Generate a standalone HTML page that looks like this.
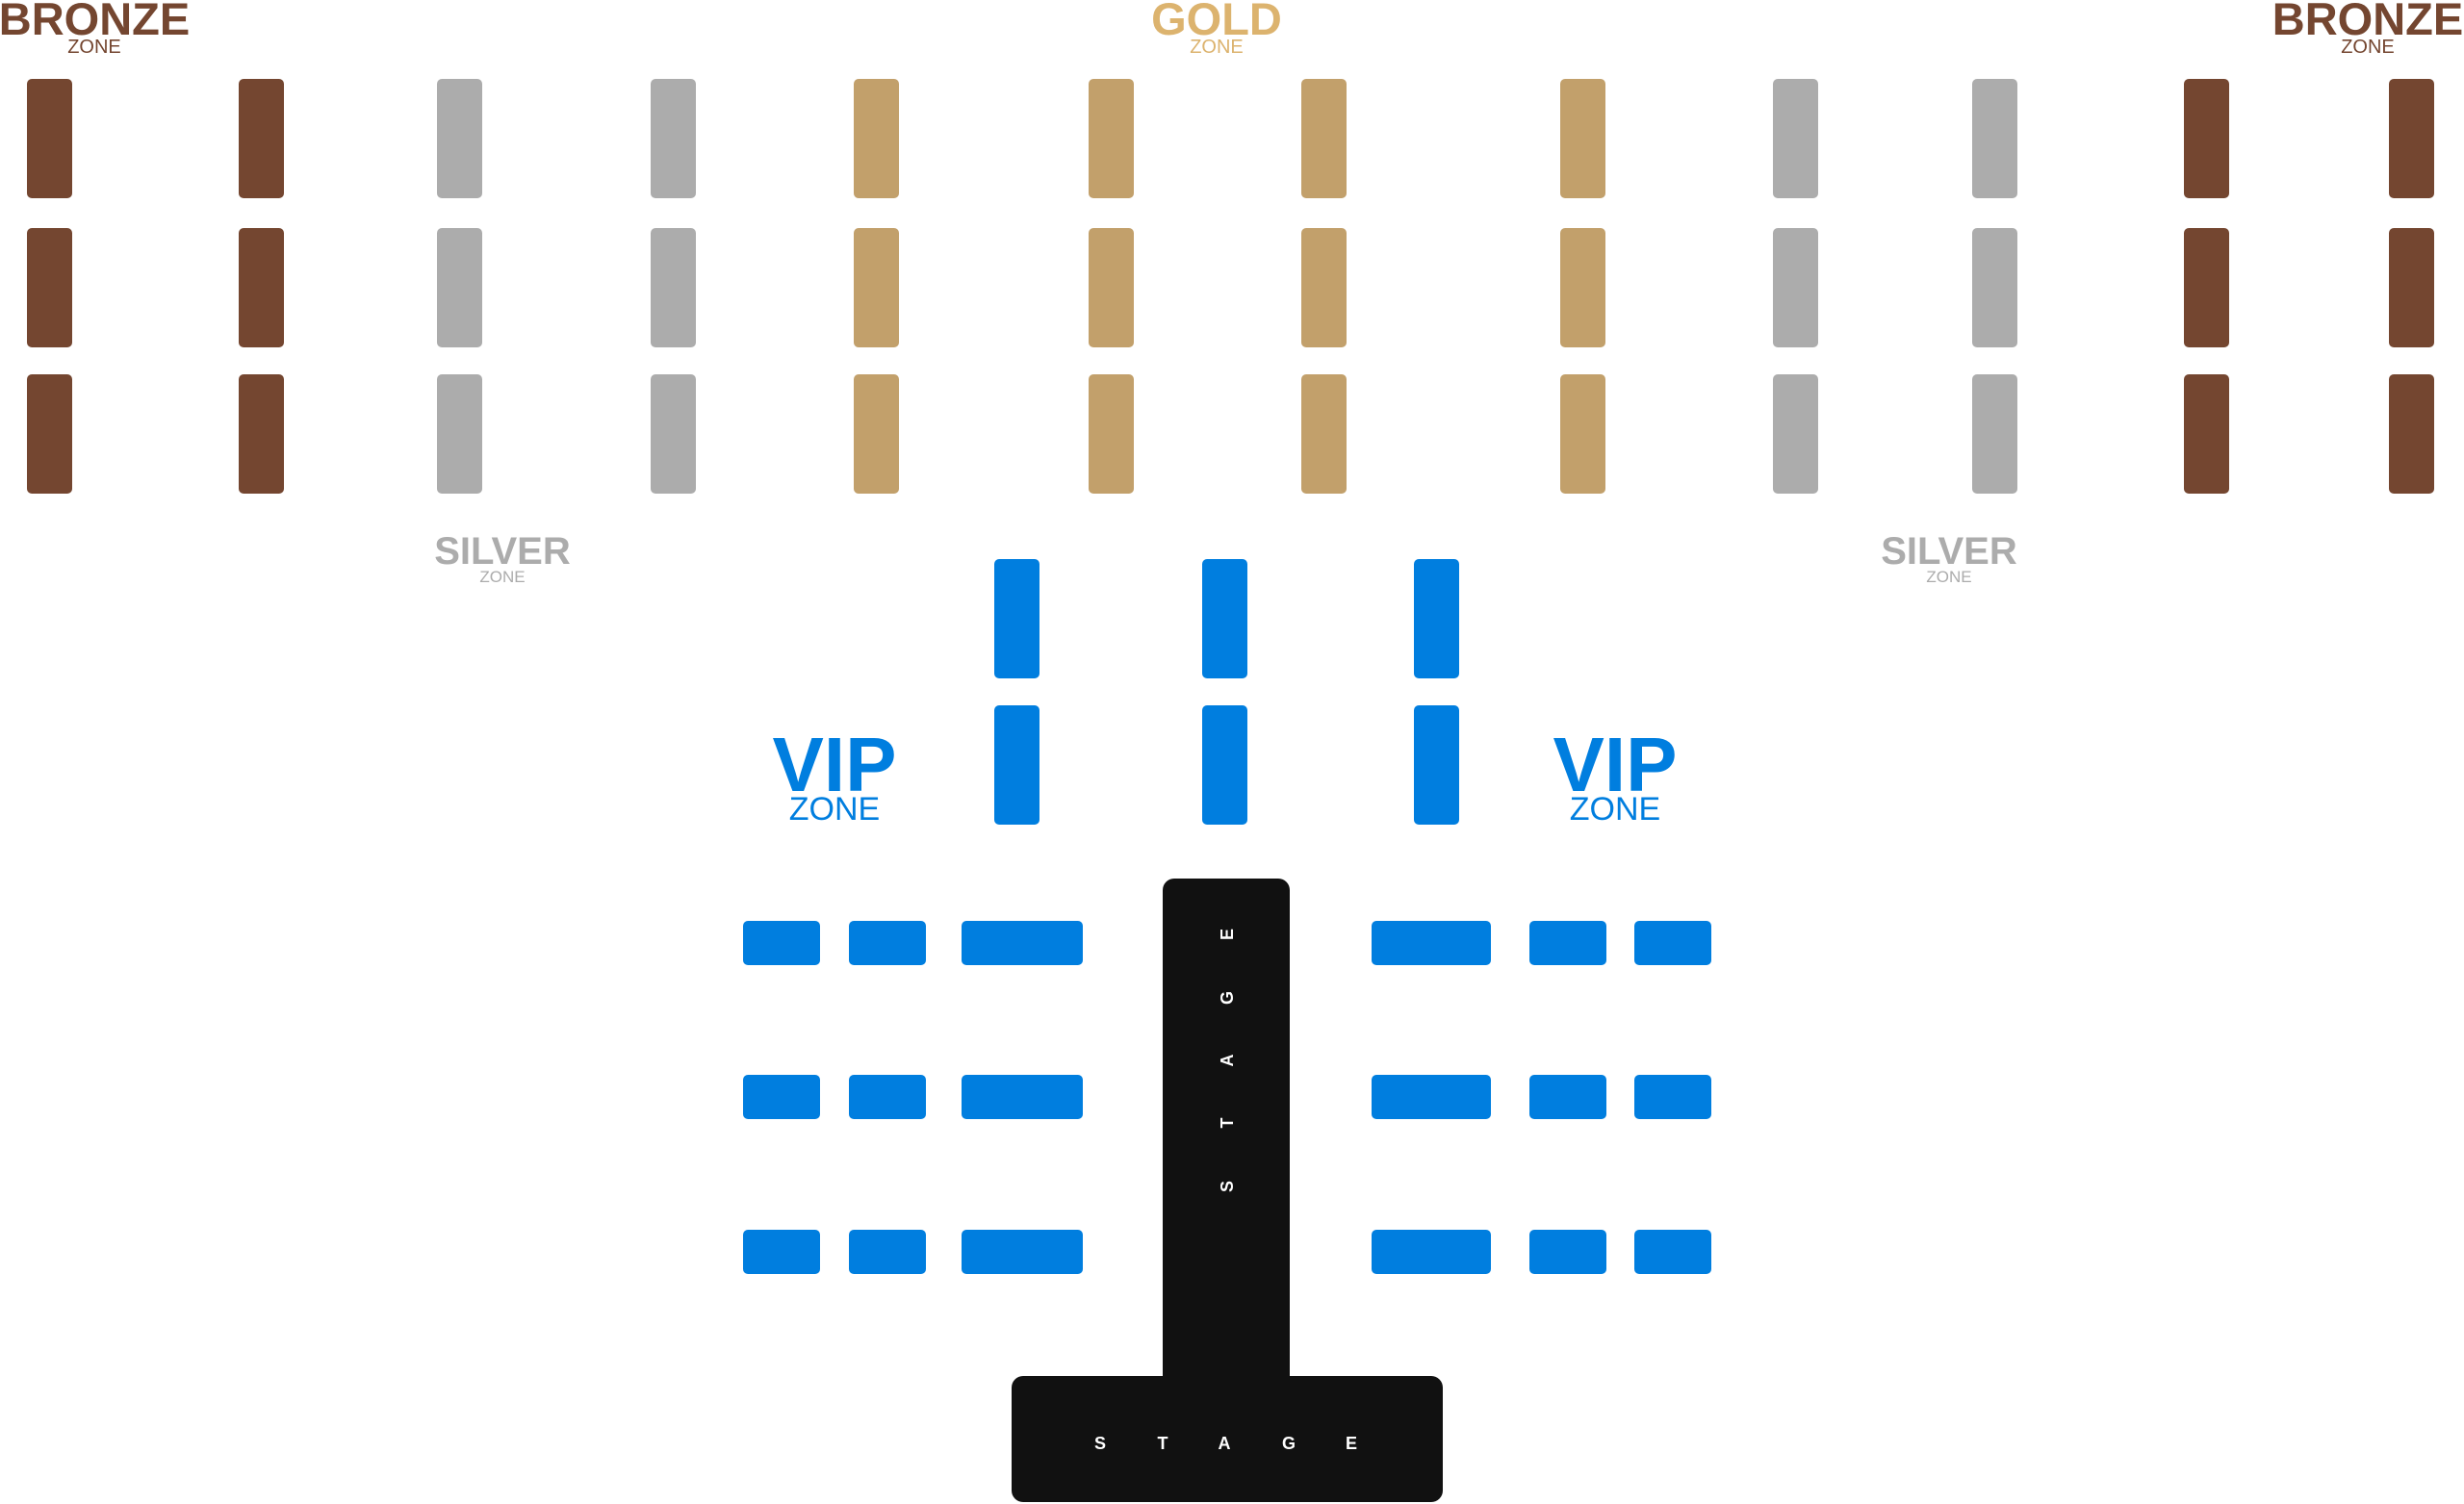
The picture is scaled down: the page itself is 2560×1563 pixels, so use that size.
<!DOCTYPE html>
<html><head><meta charset="utf-8"><style>
html,body{margin:0;padding:0;background:#fff}
body{width:2560px;height:1563px;position:relative;overflow:hidden;font-family:"Liberation Sans",sans-serif}
.r{position:absolute;border-radius:5px}
.b{background:#744630}.s{background:#acacac}.g{background:#c2a06b}.v{background:#007edf}
.t{position:absolute;text-align:center;font-weight:bold;line-height:1;transform:translateX(-50%);white-space:nowrap}
.z{position:absolute;text-align:center;line-height:1;transform:translateX(-50%);white-space:nowrap}
.st{position:absolute;background:#111}
.l{position:absolute;color:#fff;font-weight:bold;font-size:18px;line-height:1;transform:translate(-50%,-50%)}
</style></head><body>

<div class="t" style="left:98px;top:-4px;font-size:47px;color:#744630">BRONZE</div>
<div class="z" style="left:98px;top:39px;font-size:20px;color:#744630">ZONE</div>
<div class="t" style="left:2460px;top:-4px;font-size:47px;color:#744630">BRONZE</div>
<div class="z" style="left:2460px;top:39px;font-size:20px;color:#744630">ZONE</div>
<div class="t" style="left:1264px;top:-4px;font-size:47px;color:#dcb36e">GOLD</div>
<div class="z" style="left:1264px;top:39px;font-size:20px;color:#dcb36e">ZONE</div>
<div class="t" style="left:522px;top:553px;font-size:40px;color:#acacac">SILVER</div>
<div class="z" style="left:522px;top:591px;font-size:17px;color:#acacac">ZONE</div>
<div class="t" style="left:2025px;top:553px;font-size:40px;color:#acacac">SILVER</div>
<div class="z" style="left:2025px;top:591px;font-size:17px;color:#acacac">ZONE</div>
<div class="t" style="left:867px;top:755px;font-size:80px;color:#007edf">VIP</div>
<div class="z" style="left:867px;top:824px;font-size:34px;color:#007edf">ZONE</div>
<div class="t" style="left:1678px;top:755px;font-size:80px;color:#007edf">VIP</div>
<div class="z" style="left:1678px;top:824px;font-size:34px;color:#007edf">ZONE</div>

<div id="top"></div>
<script>
var xs=[28,248,454,676,887,1131,1352,1621,1842,2049,2269,2482];
var cs=['b','b','s','s','g','g','g','g','s','s','b','b'];
var ys=[82,237,389];var h='';
for(var i=0;i<12;i++)for(var j=0;j<3;j++)h+='<div class="r '+cs[i]+'" style="left:'+xs[i]+'px;top:'+ys[j]+'px;width:47px;height:124px"></div>';
var vx=[1033,1249,1469],vy=[581,733];
for(var i=0;i<3;i++)for(var j=0;j<2;j++)h+='<div class="r v" style="left:'+vx[i]+'px;top:'+vy[j]+'px;width:47px;height:124px"></div>';
var hy=[957,1117,1278];
var hc=[[772,80],[882,80],[999,126],[1425,124],[1589,80],[1698,80]];
for(var i=0;i<6;i++)for(var j=0;j<3;j++)h+='<div class="r v" style="left:'+hc[i][0]+'px;top:'+hy[j]+'px;width:'+hc[i][1]+'px;height:46px"></div>';
document.getElementById('top').outerHTML=h;
</script>

<div class="st" style="left:1208px;top:913px;width:132px;height:540px;border-radius:12px 12px 0 0"></div>
<div class="st" style="left:1051px;top:1430px;width:448px;height:131px;border-radius:12px"></div>
<div class="l" style="left:1275px;top:1233px;transform:translate(-50%,-50%) rotate(-90deg)">S</div>
<div class="l" style="left:1275px;top:1167px;transform:translate(-50%,-50%) rotate(-90deg)">T</div>
<div class="l" style="left:1275px;top:1102px;transform:translate(-50%,-50%) rotate(-90deg)">A</div>
<div class="l" style="left:1275px;top:1037px;transform:translate(-50%,-50%) rotate(-90deg)">G</div>
<div class="l" style="left:1275px;top:971px;transform:translate(-50%,-50%) rotate(-90deg)">E</div>
<div class="l" style="left:1143px;top:1500px">S</div>
<div class="l" style="left:1208px;top:1500px">T</div>
<div class="l" style="left:1272px;top:1500px">A</div>
<div class="l" style="left:1339px;top:1500px">G</div>
<div class="l" style="left:1404px;top:1500px">E</div>
</body></html>
